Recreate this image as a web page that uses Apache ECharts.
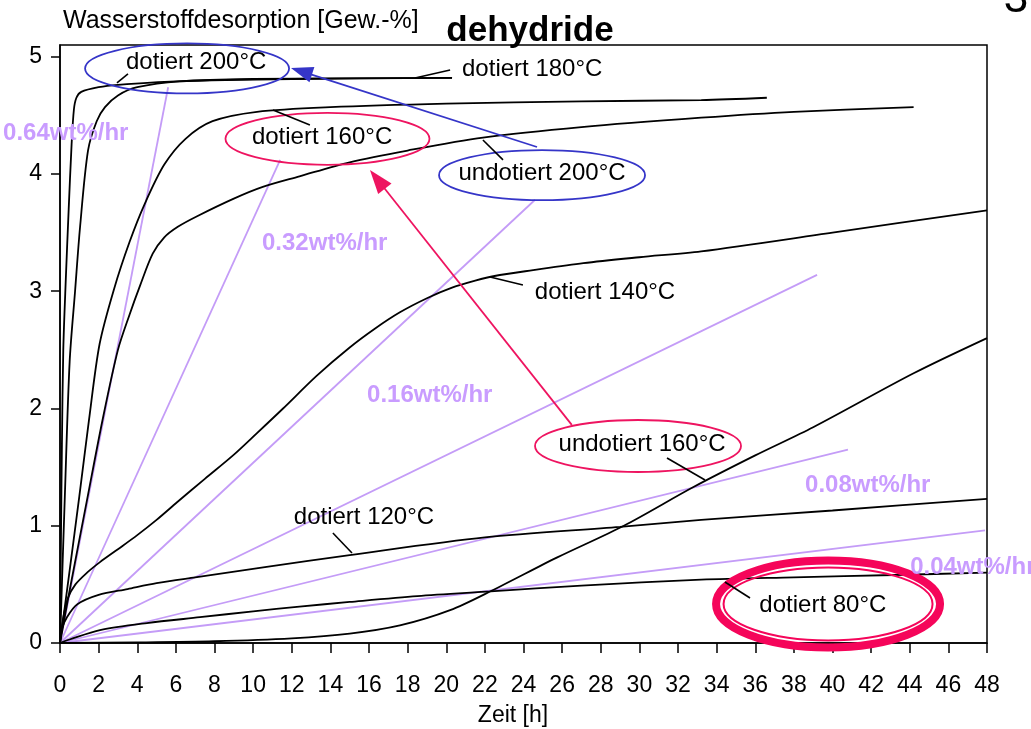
<!DOCTYPE html>
<html><head><meta charset="utf-8">
<script src="https://cdn.jsdelivr.net/npm/echarts@6/dist/echarts.min.js"></script>
<style>html,body{margin:0;padding:0;background:#fff}#c{width:1031px;height:729px}</style>
</head><body><div id="c"></div>
<script>
// ---- tick labels ----
const xTicks = [0,2,4,6,8,10,12,14,16,18,20,22,24,26,28,30,32,34,36,38,40,42,44,46,48];
const yTicks = [0,1,2,3,4,5];

// ---- measured curves: [time h, desorbed wt%] ----
const dotiert200 = [[0,0],[0.05,0.9],[0.1,1.7],[0.17,2.5],[0.3,3.1],[0.45,3.7],[0.6,4.25],[0.72,4.55],[0.85,4.65],[1.1,4.7],[2,4.74],[3,4.76],[6,4.79],[12,4.81],[20.3,4.82]];
const dotiert180 = [[0,0],[0.25,1.25],[0.5,2.4],[0.78,3.0],[1.04,3.55],[1.45,4.2],[1.9,4.45],[2.33,4.57],[3,4.67],[4,4.74],[6.2,4.79],[10,4.81],[20.3,4.82]];
const dotiert160 = [[0,0],[0.5,0.62],[1.0,1.25],[1.5,1.9],[2.05,2.55],[2.8,3.02],[3.6,3.42],[4.4,3.75],[5.4,4.08],[6.5,4.3],[7.9,4.45],[10.2,4.53],[14,4.57],[20,4.6],[27,4.62],[33.2,4.63],[36.6,4.65]];
const undotiert200 = [[0,0],[0.5,0.45],[1.4,1.22],[2.2,1.9],[3.0,2.5],[3.6,2.8],[4.15,3.05],[4.8,3.32],[5.4,3.46],[6.1,3.55],[7.1,3.64],[9.0,3.79],[10.5,3.89],[12.4,3.98],[15,4.1],[18,4.2],[21.9,4.31],[27,4.4],[33.2,4.48],[38,4.53],[44.2,4.57]];
const dotiert140 = [[0,0],[0.15,0.2],[0.4,0.38],[0.8,0.5],[1.4,0.6],[2.07,0.69],[3,0.8],[4,0.92],[5,1.05],[6.06,1.2],[7.5,1.4],[8.96,1.6],[10.2,1.79],[11.55,2.0],[13.3,2.28],[15,2.52],[16.3,2.68],[17.6,2.82],[19,2.94],[20.3,3.03],[21.5,3.09],[22.5,3.13],[24.5,3.18],[27.1,3.24],[30,3.29],[33.2,3.34],[40,3.5],[48,3.69]];
const dotiert120 = [[0,0],[0.1,0.12],[0.36,0.22],[0.9,0.33],[2,0.41],[3.5,0.46],[5,0.51],[7,0.56],[10.7,0.65],[15,0.75],[22,0.9],[29,0.99],[33.2,1.05],[40,1.13],[48,1.23]];
const dotiert80 = [[0,0],[0.5,0.03],[2.07,0.11],[4.5,0.17],[7.25,0.22],[10,0.27],[12.4,0.31],[15,0.35],[18.5,0.4],[22.3,0.44],[27,0.49],[33.2,0.54],[38,0.56],[43.2,0.58],[48,0.6]];
const undotiert160 = [[0,0],[4,0.005],[8,0.015],[12,0.04],[15,0.08],[17.6,0.15],[20.2,0.28],[22.4,0.45],[25.75,0.73],[29.2,1.0],[32.8,1.33],[36,1.6],[39,1.84],[44.2,2.3],[48,2.6]];

// ---- reference rate lines (from origin to end point) ----
const rateLineEnds = [[5.6,4.74],[11.4,4.12],[24.6,3.78],[39.2,3.14],[40.8,1.65],[47.9,0.96]];
const rateLabels = ['0.64wt%/hr','0.32wt%/hr','0.16wt%/hr','0.08wt%/hr','0.04wt%/hr'];
const rateLabelAnchors = [[-2.95,4.35],[10.46,3.41],[15.9,2.115],[38.58,1.348],[44.02,0.648]];

// ---- curve labels ----
const curveLabels = ['dotiert 200°C','dotiert 180°C','dotiert 160°C','undotiert 200°C','dotiert 140°C','undotiert 160°C','dotiert 120°C','dotiert 80°C'];
const curveLabelAnchors = [[7.05,4.955],[24.45,4.895],[13.57,4.316],[24.96,4.008],[28.22,2.994],[30.14,1.697],[15.74,1.075],[39.5,0.324]];
const pointerLines = [
  [[3.52,4.853],[2.95,4.776]],
  [[20.2,4.887],[18.38,4.819]],
  [[12.94,4.418],[11.03,4.546]],
  [[22.94,4.12],[21.9,4.29]],
  [[23.97,3.053],[22.27,3.122]],
  [[31.43,1.578],[33.4,1.39]],
  [[14.13,0.938],[15.12,0.768]],
  [[35.73,0.384],[34.43,0.52]]
];

const FONT = '"Liberation Sans", Arial, Helvetica, sans-serif';
const BLUE = '#3535c8', RED = '#ee1460', PURPLE_LINE = '#c49cf7', PURPLE_TEXT = '#c99cff';

const chart = echarts.init(document.getElementById('c'), null, {renderer:'canvas'});

const curveSeries = [dotiert200, dotiert180, dotiert160, undotiert200, dotiert140, dotiert120, dotiert80, undotiert160].map((d, i) => ({
  type:'line', data:d, showSymbol:false, symbol:'none', smooth:0.3,
  lineStyle:{color:'#000', width:1.8}, z:3, silent:true
}));
const rateSeries = rateLineEnds.map(e => ({
  type:'line', data:[[0,0], e], showSymbol:false, symbol:'none',
  lineStyle:{color:PURPLE_LINE, width:1.8}, z:2, silent:true
}));

chart.setOption({
  animation:false,
  grid:{left:60, right:44, top:45, bottom:86, show:true, borderColor:'#000', borderWidth:1.5},
  xAxis:{type:'value', min:0, max:48, interval:2,
    axisLine:{lineStyle:{color:'#000', width:1.5}},
    axisTick:{length:10, lineStyle:{color:'#000', width:1.5}},
    axisLabel:{color:'#000', fontSize:23, fontFamily:FONT, margin:31,
      customValues:xTicks, formatter:v=>String(v)},
    splitLine:{show:false}},
  yAxis:{type:'value', min:0, max:5.1, interval:1,
    axisLine:{lineStyle:{color:'#000', width:1.5}},
    axisTick:{length:9, lineStyle:{color:'#000', width:1.5}, customValues:yTicks},
    axisLabel:{color:'#000', fontSize:23, fontFamily:FONT, margin:18, customValues:yTicks, formatter:v=>String(v)},
    splitLine:{show:false}},
  series: rateSeries.concat(curveSeries)
});

const P = p => chart.convertToPixel({gridIndex:0}, p);
const g = [];

// titles
g.push({type:'text', x:63, y:21, z:100, style:{text:'Wasserstoffdesorption [Gew.-%]', fontSize:25, fontFamily:FONT, fill:'#000', align:'left', verticalAlign:'middle'}});
g.push({type:'text', x:530, y:31, z:100, style:{text:'dehydride', fontSize:35, fontWeight:'bold', fontFamily:FONT, fill:'#000', align:'center', verticalAlign:'middle'}});
g.push({type:'text', x:513, y:716, z:100, style:{text:'Zeit [h]', fontSize:23, fontFamily:FONT, fill:'#000', align:'center', verticalAlign:'middle'}});
g.push({type:'text', x:1016, y:0, z:100, style:{text:'3', fontSize:44, fontFamily:FONT, fill:'#000', align:'center', verticalAlign:'middle'}});

// ellipses (center in data coords, radii in px)
const ellipses = [
  {c:[6.58,4.90], rx:102, ry:25, color:BLUE, w:1.8},
  {c:[24.96,3.99], rx:103, ry:25, color:BLUE, w:1.8},
  {c:[13.85,4.30], rx:102, ry:26, color:RED, w:1.8},
  {c:[29.93,1.68], rx:103, ry:26, color:RED, w:1.8},
  {c:[39.77,0.333], rx:112, ry:43.5, color:'#f5055a', w:8},
  {c:[39.77,0.333], rx:104.5, ry:36.5, color:'#f5055a', w:2}
];
ellipses.forEach(e => {
  const c = P(e.c);
  g.push({type:'ellipse', z:90, shape:{cx:c[0], cy:c[1], rx:e.rx, ry:e.ry}, style:{fill:null, stroke:e.color, lineWidth:e.w}});
});

// arrows
function arrow(from, to, color, L, W) {
  const a = P(from), b = P(to);
  const dx = b[0]-a[0], dy = b[1]-a[1], len = Math.hypot(dx, dy);
  const ux = dx/len, uy = dy/len, nx = -uy, ny = ux;
  const bx = b[0]-ux*L, by = b[1]-uy*L;
  g.push({type:'line', z:95, shape:{x1:a[0], y1:a[1], x2:bx+ux*2, y2:by+uy*2}, style:{stroke:color, lineWidth:1.8}});
  g.push({type:'polygon', z:95, shape:{points:[[b[0],b[1]],[bx+nx*W/2, by+ny*W/2],[bx-nx*W/2, by-ny*W/2]]}, style:{fill:color}});
}
arrow([24.7,4.23],[11.96,4.904], BLUE, 22, 16);
arrow([26.5,1.86],[16.05,4.034], RED, 24, 17);

// pointers
pointerLines.forEach(pl => {
  const a = P(pl[0]), b = P(pl[1]);
  g.push({type:'line', z:96, shape:{x1:a[0], y1:a[1], x2:b[0], y2:b[1]}, style:{stroke:'#000', lineWidth:1.6}});
});

// curve labels
curveLabels.forEach((t, i) => {
  const p = P(curveLabelAnchors[i]);
  g.push({type:'text', x:p[0], y:p[1], z:100, style:{text:t, fontSize:24, fontFamily:FONT, fill:'#000', align:'center', verticalAlign:'middle'}});
});

// rate labels
rateLabels.forEach((t, i) => {
  const p = P(rateLabelAnchors[i]);
  g.push({type:'text', x:p[0], y:p[1], z:100, style:{text:t, fontSize:24, fontWeight:'bold', fontFamily:FONT, fill:PURPLE_TEXT, align:'left', verticalAlign:'middle'}});
});

chart.setOption({graphic:g});
</script>
</body></html>
